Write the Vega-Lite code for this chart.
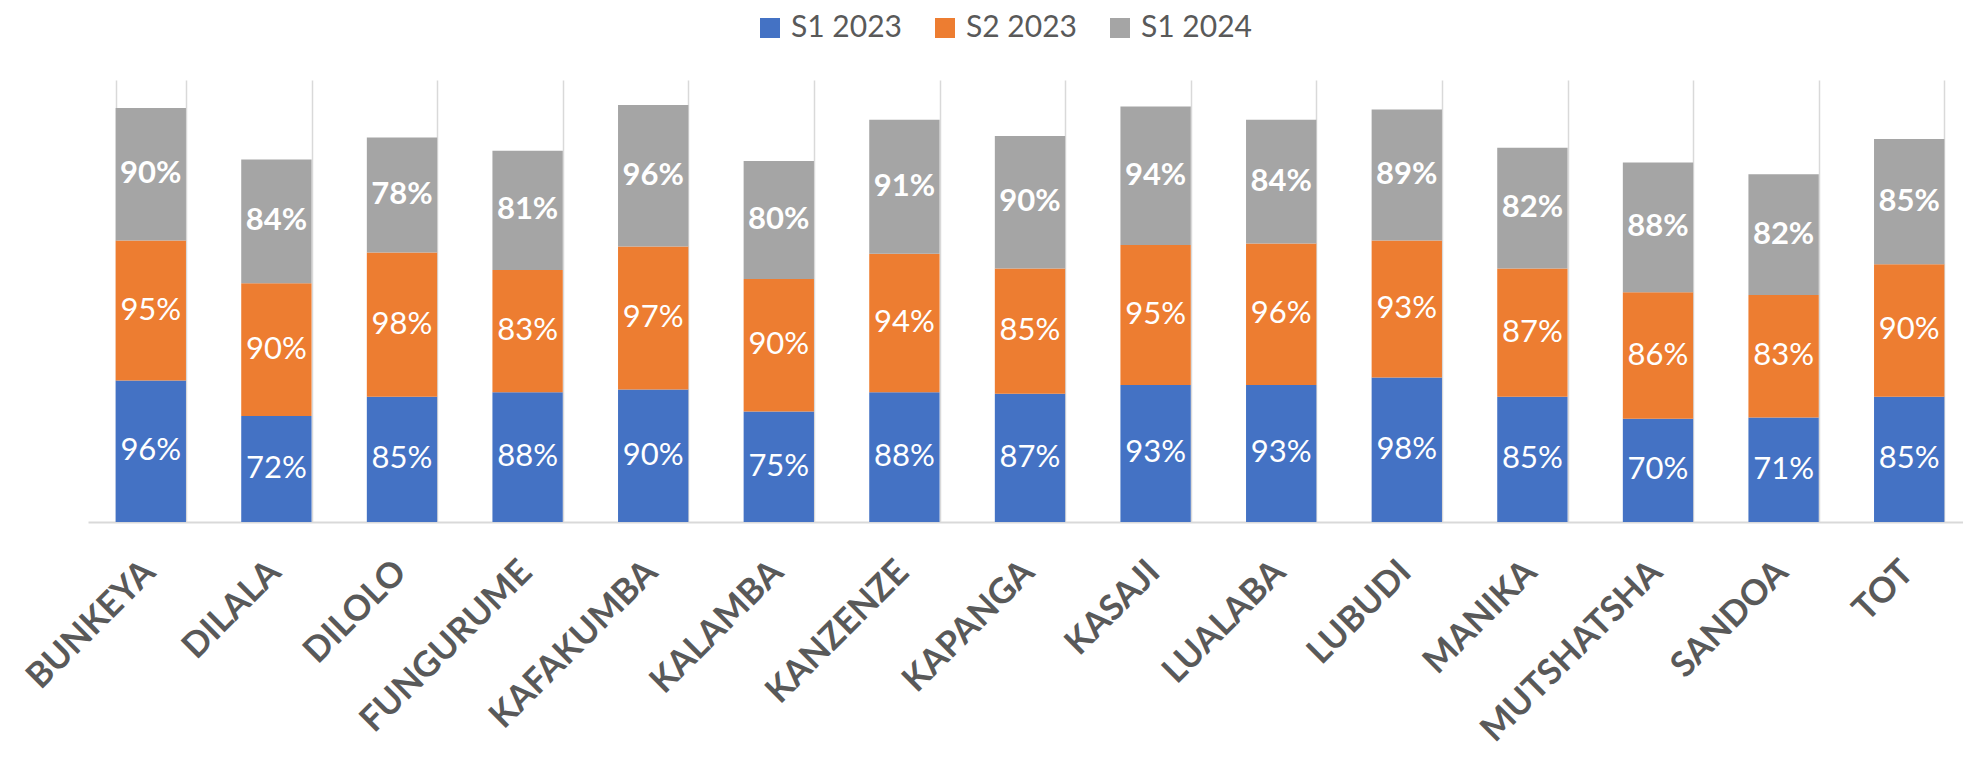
{
  "$schema": "https://vega.github.io/schema/vega-lite/v6.json",
  "width": 1875,
  "height": 442,
  "autosize": {"type": "none"},
  "padding": {"left": 88, "top": 80, "right": 0, "bottom": 237},
  "background": "white",
  "config": {"view": {"stroke": null}, "font": "Lato"},
  "data": {"values": [
    {"site": "BUNKEYA", "series": "S1 2023", "ord": 1, "value": 0.96},
    {"site": "BUNKEYA", "series": "S2 2023", "ord": 2, "value": 0.95},
    {"site": "BUNKEYA", "series": "S1 2024", "ord": 3, "value": 0.90},
    {"site": "DILALA", "series": "S1 2023", "ord": 1, "value": 0.72},
    {"site": "DILALA", "series": "S2 2023", "ord": 2, "value": 0.90},
    {"site": "DILALA", "series": "S1 2024", "ord": 3, "value": 0.84},
    {"site": "DILOLO", "series": "S1 2023", "ord": 1, "value": 0.85},
    {"site": "DILOLO", "series": "S2 2023", "ord": 2, "value": 0.98},
    {"site": "DILOLO", "series": "S1 2024", "ord": 3, "value": 0.78},
    {"site": "FUNGURUME", "series": "S1 2023", "ord": 1, "value": 0.88},
    {"site": "FUNGURUME", "series": "S2 2023", "ord": 2, "value": 0.83},
    {"site": "FUNGURUME", "series": "S1 2024", "ord": 3, "value": 0.81},
    {"site": "KAFAKUMBA", "series": "S1 2023", "ord": 1, "value": 0.90},
    {"site": "KAFAKUMBA", "series": "S2 2023", "ord": 2, "value": 0.97},
    {"site": "KAFAKUMBA", "series": "S1 2024", "ord": 3, "value": 0.96},
    {"site": "KALAMBA", "series": "S1 2023", "ord": 1, "value": 0.75},
    {"site": "KALAMBA", "series": "S2 2023", "ord": 2, "value": 0.90},
    {"site": "KALAMBA", "series": "S1 2024", "ord": 3, "value": 0.80},
    {"site": "KANZENZE", "series": "S1 2023", "ord": 1, "value": 0.88},
    {"site": "KANZENZE", "series": "S2 2023", "ord": 2, "value": 0.94},
    {"site": "KANZENZE", "series": "S1 2024", "ord": 3, "value": 0.91},
    {"site": "KAPANGA", "series": "S1 2023", "ord": 1, "value": 0.87},
    {"site": "KAPANGA", "series": "S2 2023", "ord": 2, "value": 0.85},
    {"site": "KAPANGA", "series": "S1 2024", "ord": 3, "value": 0.90},
    {"site": "KASAJI", "series": "S1 2023", "ord": 1, "value": 0.93},
    {"site": "KASAJI", "series": "S2 2023", "ord": 2, "value": 0.95},
    {"site": "KASAJI", "series": "S1 2024", "ord": 3, "value": 0.94},
    {"site": "LUALABA", "series": "S1 2023", "ord": 1, "value": 0.93},
    {"site": "LUALABA", "series": "S2 2023", "ord": 2, "value": 0.96},
    {"site": "LUALABA", "series": "S1 2024", "ord": 3, "value": 0.84},
    {"site": "LUBUDI", "series": "S1 2023", "ord": 1, "value": 0.98},
    {"site": "LUBUDI", "series": "S2 2023", "ord": 2, "value": 0.93},
    {"site": "LUBUDI", "series": "S1 2024", "ord": 3, "value": 0.89},
    {"site": "MANIKA", "series": "S1 2023", "ord": 1, "value": 0.85},
    {"site": "MANIKA", "series": "S2 2023", "ord": 2, "value": 0.87},
    {"site": "MANIKA", "series": "S1 2024", "ord": 3, "value": 0.82},
    {"site": "MUTSHATSHA", "series": "S1 2023", "ord": 1, "value": 0.70},
    {"site": "MUTSHATSHA", "series": "S2 2023", "ord": 2, "value": 0.86},
    {"site": "MUTSHATSHA", "series": "S1 2024", "ord": 3, "value": 0.88},
    {"site": "SANDOA", "series": "S1 2023", "ord": 1, "value": 0.71},
    {"site": "SANDOA", "series": "S2 2023", "ord": 2, "value": 0.83},
    {"site": "SANDOA", "series": "S1 2024", "ord": 3, "value": 0.82},
    {"site": "TOT", "series": "S1 2023", "ord": 1, "value": 0.85},
    {"site": "TOT", "series": "S2 2023", "ord": 2, "value": 0.90},
    {"site": "TOT", "series": "S1 2024", "ord": 3, "value": 0.85}
  ]},
  "encoding": {
    "x": {
      "field": "site",
      "type": "nominal",
      "sort": null,
      "scale": {"range": [0, 1884], "paddingInner": 0.44, "paddingOuter": 0.22},
      "axis": {
        "title": null,
        "labelAngle": -45,
        "labelAlign": "right",
        "labelBaseline": "middle",
        "labelFont": "Lato",
        "labelFontWeight": "bold",
        "labelFontSize": 35,
        "labelColor": "#595959",
        "labelPadding": 44,
        "labelOffset": -2,
        "labelOverlap": false,
        "labelBound": false,
        "labelLimit": 0,
        "ticks": false,
        "tickBand": "extent",
        "grid": true,
        "gridColor": "#d9d9d9",
        "gridWidth": 1.5,
        "domainColor": "#d9d9d9",
        "domainWidth": 2
      }
    },
    "order": {"field": "ord", "type": "quantitative"}
  },
  "layer": [
    {
      "mark": {"type": "bar"},
      "encoding": {
        "y": {"field": "value", "type": "quantitative", "stack": "zero", "scale": {"domain": [0, 3], "nice": false}, "axis": null},
        "color": {
          "field": "series",
          "type": "nominal",
          "scale": {"domain": ["S1 2023", "S2 2023", "S1 2024"], "range": ["#4472C4", "#ED7D31", "#A5A5A5"]},
          "legend": {
            "title": null,
            "orient": "none",
            "direction": "horizontal",
            "legendX": 667,
            "legendY": -67,
            "padding": 0,
            "symbolType": "square",
            "symbolSize": 400,
            "symbolStrokeWidth": 0,
            "labelFont": "Lato",
            "labelFontSize": 30,
            "labelColor": "#595959",
            "labelOffset": 6,
            "columnPadding": 28,
            "labelLimit": 300
          }
        }
      }
    },
    {
      "mark": {"type": "text", "color": "white", "font": "Lato", "fontSize": 31, "fontWeight": "normal", "baseline": "middle", "align": "center"},
      "encoding": {
        "y": {"field": "value", "type": "quantitative", "stack": "zero", "bandPosition": 0.5},
        "text": {"condition": {"test": "datum.series !== 'S1 2024'", "field": "value", "type": "quantitative", "format": ".0%"}, "value": ""}
      }
    },
    {
      "mark": {"type": "text", "color": "white", "font": "Lato", "fontSize": 31, "fontWeight": "bold", "baseline": "middle", "align": "center"},
      "encoding": {
        "y": {"field": "value", "type": "quantitative", "stack": "zero", "bandPosition": 0.5},
        "text": {"condition": {"test": "datum.series === 'S1 2024'", "field": "value", "type": "quantitative", "format": ".0%"}, "value": ""}
      }
    }
  ]
}
